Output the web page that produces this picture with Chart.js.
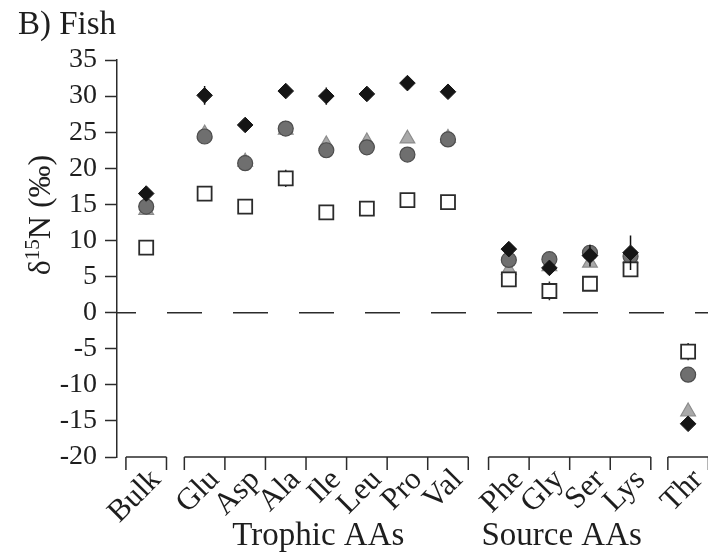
<!DOCTYPE html>
<html>
<head>
<meta charset="utf-8">
<script src="https://cdn.jsdelivr.net/npm/chart.js@4.4.1/dist/chart.umd.min.js"></script>
<style>
    html, body { margin: 0; padding: 0; background: #fff; }
    #wrap { width: 708px; height: 552px; }
</style>
</head>
<body>
<div id="wrap"><canvas id="fishChart" width="708" height="552"></canvas></div>
<script>
// Categories, grouped the way the x axis is broken up
const bulkLabels = ['Bulk'];
const trophicLabels = ['Glu', 'Asp', 'Ala', 'Ile', 'Leu', 'Pro', 'Val'];
const sourceLabels = ['Phe', 'Gly', 'Ser', 'Lys'];
const thrLabels = ['Thr'];
const groupTitles = ['', 'Trophic AAs', 'Source AAs', ''];

// d15N (permil), order: Bulk, Glu..Val, Phe..Lys, Thr
const diamondValues  = [16.5, 30.1, 26.0, 30.7, 30.0, 30.3, 31.8, 30.6, 8.8, 6.2, 7.9, 8.3, -15.4];
const diamondErr     = [0.6, 1.3, 0.4, 0.6, 1.2, 0.5, 0.5, 1.0, 0.8, 0.6, 1.5, 2.4, 0.5];
const triangleValues = [14.2, 24.8, 20.9, 25.3, 23.3, 23.7, 24.1, 24.2, 5.9, 6.4, 6.9, 7.5, -13.7];
const circleValues   = [14.7, 24.4, 20.7, 25.5, 22.5, 22.9, 21.9, 24.0, 7.3, 7.4, 8.3, 7.8, -8.6];
const squareValues   = [9.0, 16.5, 14.7, 18.6, 13.9, 14.4, 15.6, 15.3, 4.6, 3.0, 4.0, 6.0, -5.4];
const squareErr      = [0.4, 0.4, 0.4, 1.2, 0.4, 0.4, 0.4, 0.4, 0.4, 1.3, 0.4, 0.4, 1.2];

const yTickValues = [-20, -15, -10, -5, 0, 5, 10, 15, 20, 25, 30, 35];

const SERIF = '"Liberation Serif", "Times New Roman", serif';
const INK = '#2b2b2b';
const GROUP_GAPS = [0.44, 0.5, 0.42];
const X_MIN = -0.72;
const X_MAX = 13.85;

// lay the groups out on a linear scale, with a gap between groups
const groups = [bulkLabels, trophicLabels, sourceLabels, thrLabels];
const categories = [];
const xPositions = [];
const groupSpans = [];
let cursor = -0.5;
groups.forEach((g, gi) => {
    const start = cursor;
    g.forEach((lab, i) => {
        categories.push(lab);
        xPositions.push(start + i + 0.5);
    });
    cursor = start + g.length;
    groupSpans.push({ start, end: cursor, count: g.length, title: groupTitles[gi] });
    cursor += GROUP_GAPS[gi] || 0;
});

const toPoints = vals => vals.map((v, i) => ({ x: xPositions[i], y: v }));

// error bars, drawn only where they stick out of the marker
const errorBarPlugin = {
    id: 'errorBars',
    afterDatasetsDraw(chart) {
        const { ctx, scales: { y } } = chart;
        chart.data.datasets.forEach((ds, di) => {
            if (!ds.yErr) return;
            const meta = chart.getDatasetMeta(di);
            ctx.save();
            ctx.strokeStyle = ds.errColor || INK;
            ctx.lineWidth = 1.5;
            meta.data.forEach((pt, i) => {
                const err = ds.yErr[i];
                if (!err) return;
                const v = ds.data[i].y;
                const top = y.getPixelForValue(v + err);
                const bot = y.getPixelForValue(v - err);
                const half = ds.markerHalf || 7;
                ctx.beginPath();
                if (pt.y - top > half) {
                    ctx.moveTo(pt.x, pt.y - half);
                    ctx.lineTo(pt.x, top);
                }
                if (bot - pt.y > half) {
                    ctx.moveTo(pt.x, pt.y + half);
                    ctx.lineTo(pt.x, bot);
                }
                ctx.stroke();
            });
            ctx.restore();
        });
    }
};

// broken x axis brackets, group names, panel title and y title
const decorPlugin = {
    id: 'decor',
    afterDraw(chart) {
        const { ctx, chartArea, scales: { x } } = chart;
        const base = chartArea.bottom;
        ctx.save();
        ctx.strokeStyle = INK;
        ctx.lineWidth = 1.5;
        groupSpans.forEach(span => {
            const x0 = x.getPixelForValue(span.start);
            const x1 = x.getPixelForValue(span.end);
            ctx.beginPath();
            ctx.moveTo(x0, base);
            ctx.lineTo(x1, base);
            for (let k = 0; k <= span.count; k++) {
                const px = x.getPixelForValue(span.start + k);
                ctx.moveTo(px, base);
                ctx.lineTo(px, base + 13);
            }
            ctx.stroke();
        });

        ctx.fillStyle = '#1e1e1e';
        ctx.font = '33px ' + SERIF;
        ctx.textAlign = 'center';
        ctx.textBaseline = 'alphabetic';
        groupSpans.forEach(span => {
            if (!span.title) return;
            const cx = x.getPixelForValue((span.start + span.end) / 2) - 8;
            ctx.fillText(span.title, cx, 545);
        });

        // panel title
        ctx.textAlign = 'left';
        ctx.font = '33px ' + SERIF;
        ctx.fillText('B) Fish', 18, 34);

        // y axis title: delta 15N (permil), rotated
        const bigFont = '32px ' + SERIF;
        const supFont = '21px ' + SERIF;
        ctx.font = bigFont;
        const wDelta = ctx.measureText('δ').width;
        const wRest = ctx.measureText('N (‰)').width;
        ctx.font = supFont;
        const wSup = ctx.measureText('15').width;
        const total = wDelta + wSup + wRest;
        ctx.translate(50, 215);
        ctx.rotate(-Math.PI / 2);
        let cx = -total / 2;
        ctx.font = bigFont;
        ctx.fillText('δ', cx, 0);
        cx += wDelta;
        ctx.font = supFont;
        ctx.fillText('15', cx, -11);
        cx += wSup;
        ctx.font = bigFont;
        ctx.fillText('N (‰)', cx, 0);
        ctx.restore();
    }
};

const ctx = document.getElementById('fishChart').getContext('2d');
new Chart(ctx, {
    type: 'scatter',
    data: {
        datasets: [
            {
                label: 'squares',
                data: toPoints(squareValues),
                yErr: squareErr,
                markerHalf: 7,
                pointStyle: 'rect',
                pointRadius: 9.9,
                backgroundColor: '#ffffff',
                borderColor: '#2b2b2b',
                borderWidth: 1.8
            },
            {
                label: 'diamonds',
                data: toPoints(diamondValues),
                yErr: diamondErr,
                errColor: '#111111',
                markerHalf: 7.5,
                pointStyle: 'rectRot',
                pointRadius: 7.8,
                backgroundColor: '#151515',
                borderColor: '#151515',
                borderWidth: 1
            },
            {
                label: 'circles',
                data: toPoints(circleValues),
                pointStyle: 'circle',
                pointRadius: 7.5,
                backgroundColor: '#6f6f6f',
                borderColor: '#4d4d4d',
                borderWidth: 1.2
            },
            {
                label: 'triangles',
                data: toPoints(triangleValues),
                pointStyle: 'triangle',
                pointRadius: 8.5,
                backgroundColor: '#a9a9a9',
                borderColor: '#8c8c8c',
                borderWidth: 1.2
            },
            {
                label: 'zero',
                data: [{ x: X_MIN, y: 0 }, { x: X_MAX, y: 0 }],
                showLine: true,
                pointRadius: 0,
                borderColor: '#2b2b2b',
                borderWidth: 1.5,
                borderDash: [35, 31],
                borderDashOffset: 16
            }
        ]
    },
    options: {
        responsive: false,
        animation: false,
        layout: {
            autoPadding: false,
            padding: { top: 60, left: 0, right: 0, bottom: 0 }
        },
        plugins: {
            legend: { display: false },
            tooltip: { enabled: false },
            title: { display: false }
        },
        scales: {
            x: {
                type: 'linear',
                min: X_MIN,
                max: X_MAX,
                afterBuildTicks: s => { s.ticks = xPositions.map(v => ({ value: v })); },
                afterFit: s => {
                    s.height = 95;
                    s.paddingLeft = 0;
                    s.paddingRight = 0;
                },
                grid: { display: false, drawTicks: false },
                border: { display: false },
                ticks: {
                    autoSkip: false,
                    minRotation: 45,
                    maxRotation: 45,
                    padding: 5,
                    labelOffset: 10,
                    color: '#1e1e1e',
                    font: { family: SERIF, size: 31 },
                    callback: (v, i) => categories[i]
                }
            },
            y: {
                min: -20,
                max: 35,
                afterBuildTicks: s => { s.ticks = yTickValues.map(v => ({ value: v })); },
                afterFit: s => { s.width = 117; },
                grid: {
                    drawOnChartArea: false,
                    tickLength: 12,
                    tickWidth: 1.5,
                    tickColor: INK
                },
                border: { color: INK, width: 1.5 },
                ticks: {
                    autoSkip: false,
                    padding: 8,
                    color: '#1e1e1e',
                    font: { family: SERIF, size: 28 },
                    callback: v => String(v)
                }
            }
        }
    },
    plugins: [errorBarPlugin, decorPlugin]
});
</script>
</body>
</html>
